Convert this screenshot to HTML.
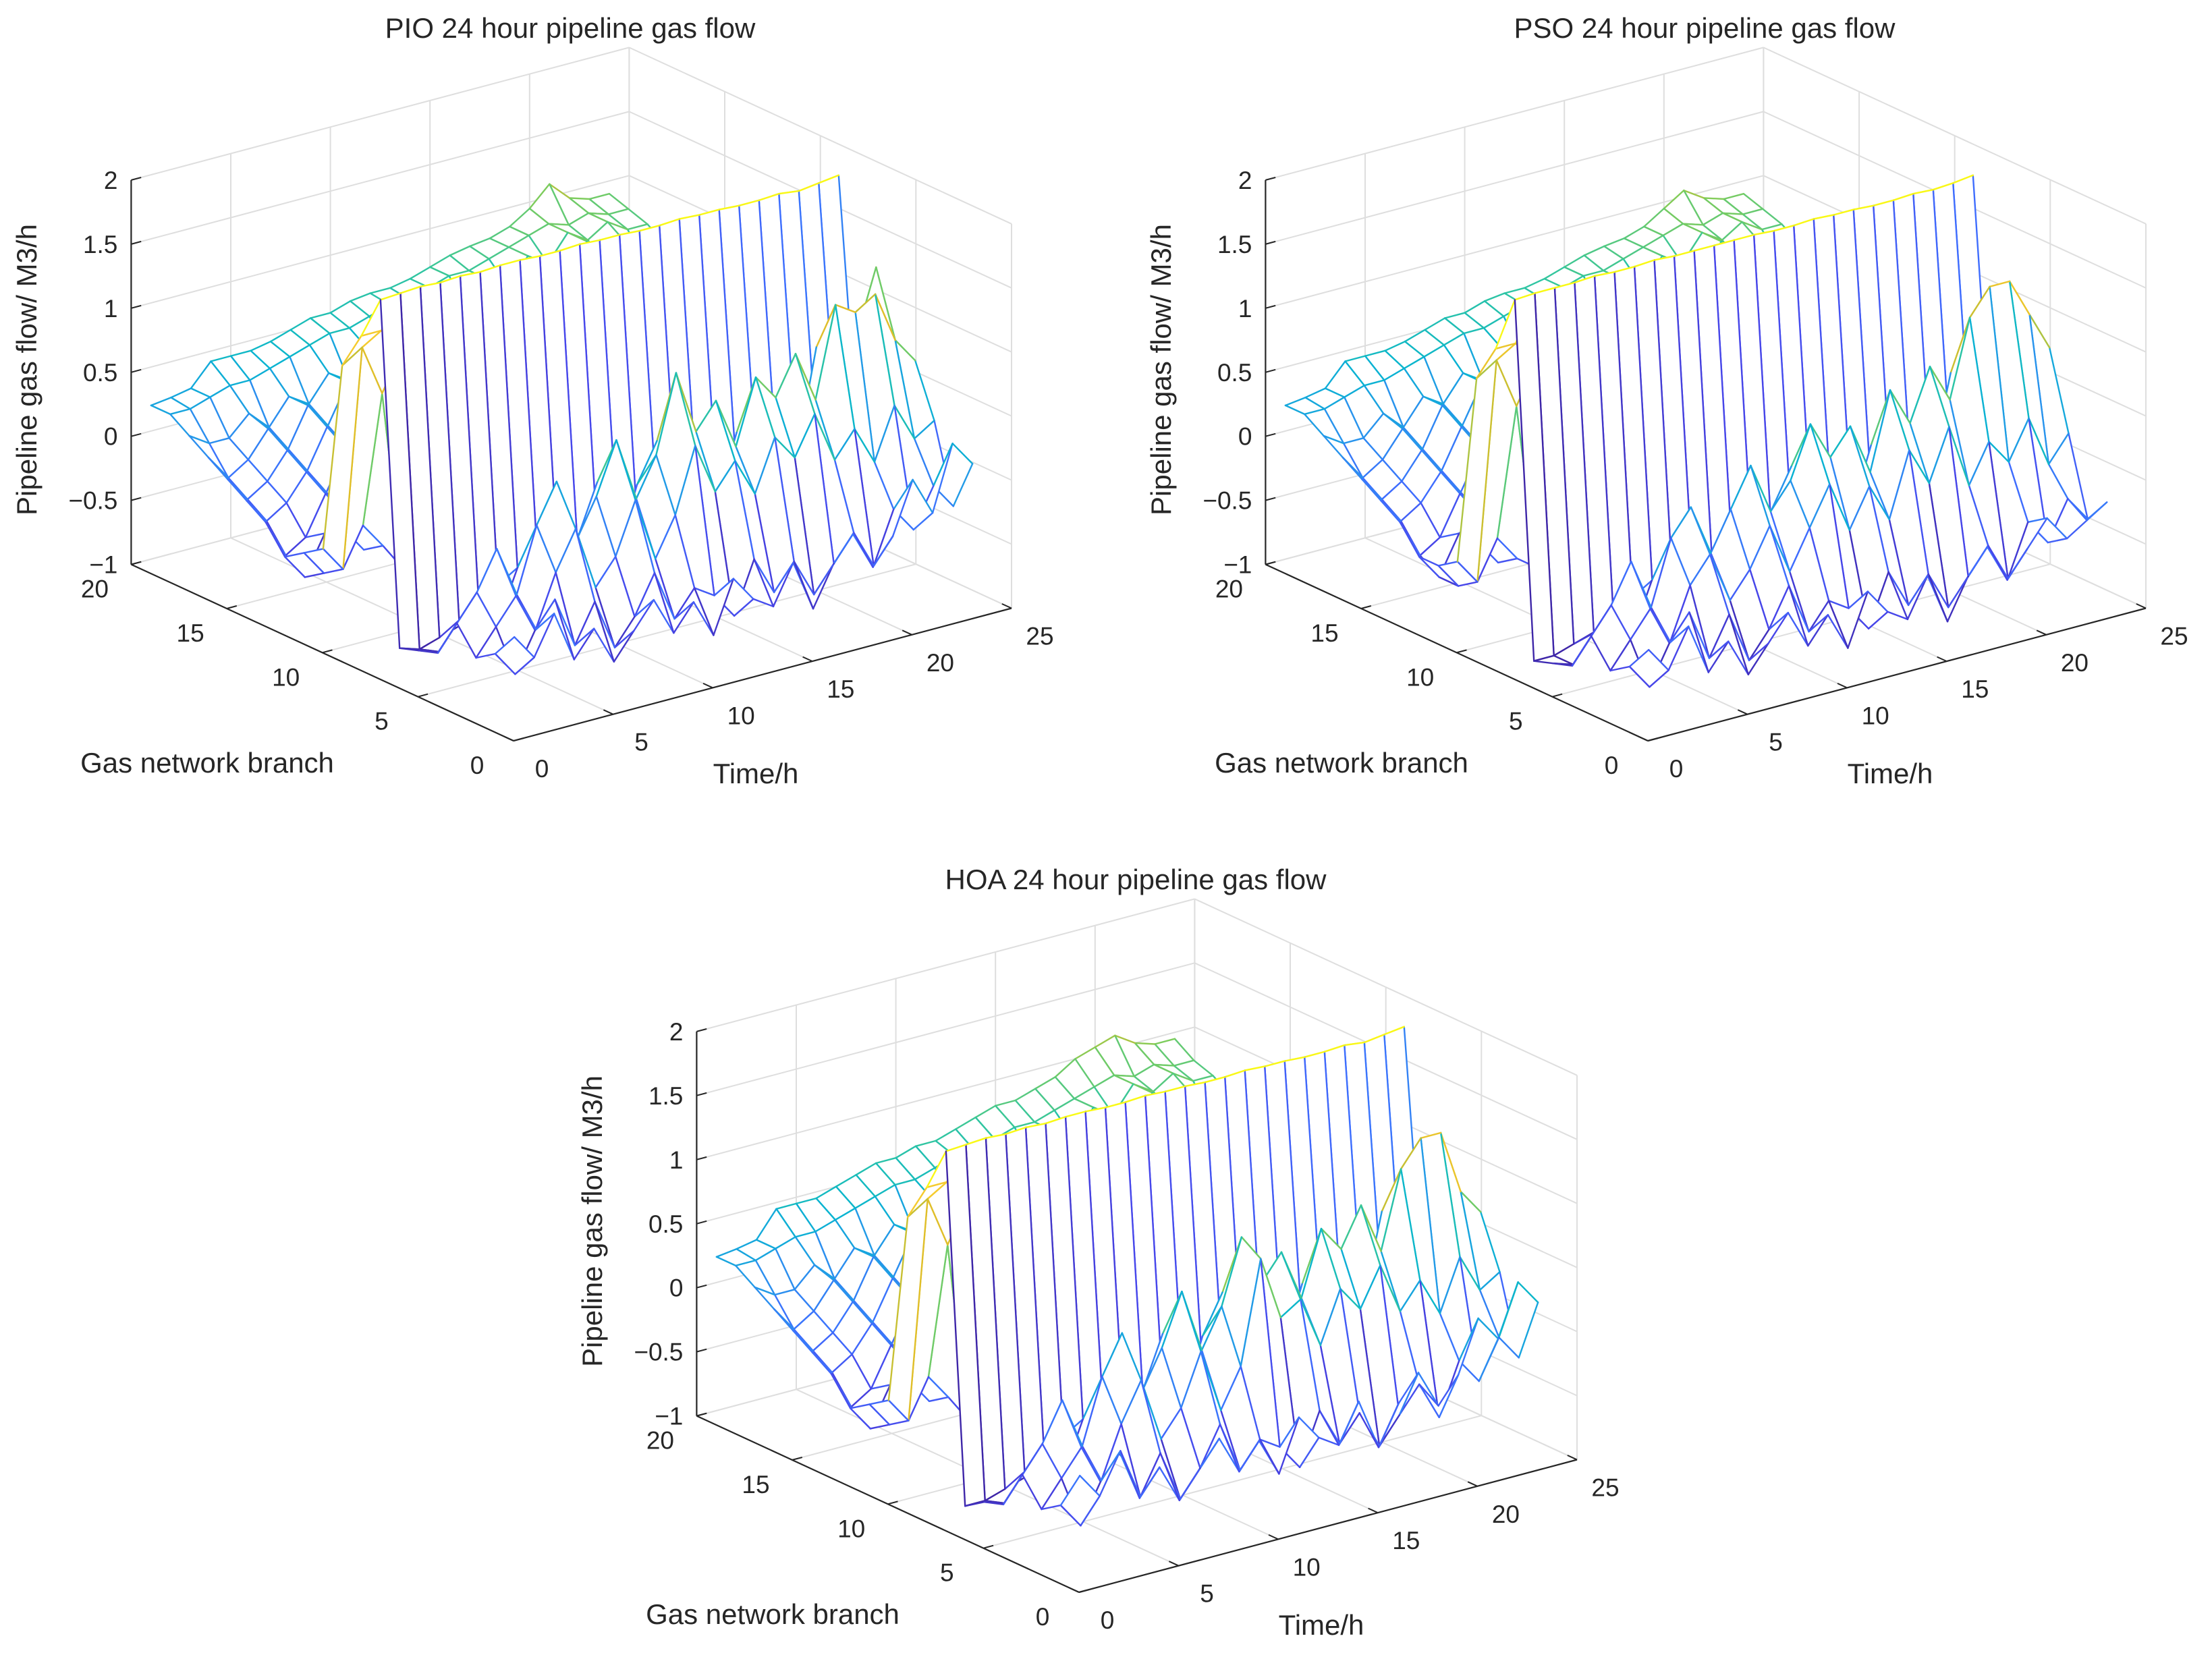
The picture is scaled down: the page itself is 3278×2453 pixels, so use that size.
<!DOCTYPE html>
<html><head><meta charset="utf-8"><style>
html,body{margin:0;padding:0;background:#fff;}
svg{display:block;font-family:"Liberation Sans",Arial,sans-serif;}
</style></head><body>
<svg id="fig" width="3278" height="2453" viewBox="0 0 3278 2453" xmlns="http://www.w3.org/2000/svg">
<rect width="3278" height="2453" fill="#fff"/>
</svg>
<script>
// ---- data: rows = gas network branch 1..20, columns = hour 1..24 ----
const hours = [1,2,3,4,5,6,7,8,9,10,11,12,13,14,15,16,17,18,19,20,21,22,23,24];
const branches = [1,2,3,4,5,6,7,8,9,10,11,12,13,14,15,16,17,18,19,20];
const zTicks = [-1,-0.5,0,0.5,1,1.5,2];
const zTickLabels = ['\u22121','\u22120.5','0','0.5','1','1.5','2'];
const branchTicks = [0,5,10,15,20];
const timeTicks = [0,5,10,15,20,25];

const flowPIO = [
[-0.3,-0.5,-0.2,-0.6,-0.4,-0.7,-0.5,-0.3,-0.6,-0.4,-0.7,-0.3,-0.5,-0.6,-0.3,-0.7,-0.4,-0.2,-0.5,-0.3,0.1,-0.2,0.3,0.1],
[-0.5,-0.7,-0.4,-0.2,-0.6,-0.3,-0.7,-0.5,-0.2,-0.6,-0.4,-0.5,-0.7,-0.3,-0.6,-0.4,-0.7,-0.5,-0.3,-0.6,-0.2,-0.4,-0.1,-0.3],
[-0.6,-0.4,-0.2,-0.5,-0.1,0.2,-0.3,-0.1,0.3,-0.2,0.1,0.6,0.2,0.4,0.1,0.5,0.3,0.6,0.2,0.4,0.1,0.5,0.2,0.3],
[-0.4,-0.2,0.1,-0.3,0.2,0.5,0.0,0.3,0.7,0.2,0.5,1.1,0.6,0.8,0.4,0.9,0.7,1.0,0.6,1.3,1.2,1.3,0.9,0.7],
[-0.7,-0.5,-0.3,-0.6,-0.2,0.1,-0.4,-0.1,0.3,-0.3,0.2,0.5,0.1,0.3,-0.1,0.4,0.2,0.5,0.1,0.9,0.8,0.9,1.4,0.6],
[-0.75,-0.8,-0.6,-0.7,-0.4,-0.6,-0.5,-0.7,-0.3,-0.6,-0.5,-0.2,-0.6,-0.4,-0.7,-0.3,-0.6,-0.5,-0.2,-0.5,-0.3,-0.4,0.2,0.0],
[-0.8,-0.85,-0.8,-0.75,-0.7,-0.7,-0.65,-0.6,-0.6,-0.55,-0.55,-0.5,-0.5,-0.45,-0.45,-0.4,-0.4,-0.35,-0.3,-0.3,-0.25,-0.2,-0.2,-0.1],
[1.85,1.86,1.87,1.86,1.87,1.86,1.87,1.87,1.86,1.86,1.87,1.86,1.86,1.85,1.85,1.86,1.85,1.85,1.84,1.84,1.85,1.83,1.85,1.87],
[1.5,1.5,1.3,0.2,-0.3,-0.4,-0.3,-0.2,-0.3,-0.1,0.0,0.1,0.0,0.2,0.1,0.3,0.2,0.4,0.3,0.5,0.4,0.6,0.5,0.4],
[1.2,1.3,0.9,-0.5,-0.6,-0.5,-0.6,-0.4,-0.5,-0.3,-0.4,-0.2,-0.3,-0.1,-0.2,0.0,-0.1,0.1,0.0,0.2,0.1,0.3,0.2,0.1],
[-0.3,-0.5,-0.2,-0.4,-0.3,-0.5,-0.2,-0.4,-0.1,-0.3,0.0,-0.2,0.1,-0.1,0.2,0.0,0.3,0.1,0.2,0.0,0.3,0.1,0.2,0.1],
[-0.4,-0.6,-0.3,-0.5,-0.2,-0.4,-0.3,-0.1,-0.3,0.0,-0.2,0.1,-0.1,0.2,0.0,0.3,0.1,0.4,0.2,0.3,0.1,0.4,0.2,0.3],
[-0.5,-0.7,-0.4,-0.3,-0.5,-0.2,-0.4,-0.1,-0.3,0.0,-0.2,0.1,0.0,0.2,0.1,0.3,0.2,0.4,0.3,0.5,0.3,0.4,0.2,0.3],
[-0.3,-0.6,-0.5,-0.2,-0.4,-0.1,-0.3,0.0,-0.2,0.1,-0.1,0.2,0.0,0.3,0.1,0.4,0.2,0.5,0.3,0.6,0.4,0.5,0.3,0.4],
[-0.2,-0.4,-0.3,-0.1,-0.3,0.0,-0.2,0.1,-0.1,0.2,0.0,0.3,0.1,0.4,0.2,0.5,0.3,0.6,0.4,0.7,0.5,0.6,0.4,0.5],
[-0.1,-0.3,-0.2,0.0,-0.2,0.1,-0.1,0.2,0.0,0.3,0.1,0.4,0.2,0.5,0.3,0.6,0.4,0.7,0.5,0.8,0.6,0.7,0.5,0.6],
[0.0,-0.2,-0.1,0.1,-0.1,0.2,0.0,0.3,0.1,0.4,0.2,0.5,0.3,0.6,0.4,0.7,0.5,0.8,0.6,0.9,0.7,0.8,0.6,0.7],
[0.1,0.0,0.0,0.15,0.0,0.2,0.1,0.3,0.2,0.4,0.3,0.5,0.4,0.6,0.5,0.7,0.6,0.8,0.7,0.9,0.8,0.9,0.8,0.8],
[0.2,0.2,0.25,0.3,0.3,0.35,0.4,0.45,0.5,0.5,0.55,0.6,0.6,0.65,0.7,0.7,0.75,0.8,0.85,0.9,0.85,0.9,0.85,0.85],
[0.2,0.22,0.25,0.42,0.42,0.42,0.45,0.5,0.55,0.55,0.6,0.62,0.62,0.65,0.7,0.75,0.78,0.8,0.85,0.95,1.1,0.95,0.9,0.9]
];

const flowPSO = [
[-0.4,-0.6,-0.3,-0.7,-0.5,-0.8,-0.6,-0.4,-0.7,-0.5,-0.8,-0.4,-0.6,-0.7,-0.4,-0.8,-0.5,-0.3,-0.6,-0.4,-0.2,-0.4,-0.3,-0.2],
[-0.6,-0.8,-0.5,-0.3,-0.7,-0.4,-0.8,-0.6,-0.3,-0.7,-0.5,-0.6,-0.8,-0.4,-0.7,-0.5,-0.8,-0.6,-0.4,-0.7,-0.3,-0.5,-0.2,-0.4],
[-0.7,-0.5,-0.3,-0.6,-0.2,0.0,-0.4,-0.2,0.1,-0.3,0.0,0.3,-0.1,0.2,-0.1,0.4,0.1,0.5,0.0,0.3,0.1,0.4,0.0,0.2],
[-0.5,-0.3,0.0,-0.4,0.1,0.3,-0.1,0.2,0.5,0.1,0.3,0.7,0.4,0.6,0.2,0.8,0.5,0.9,0.6,1.2,1.4,1.4,1.1,0.8],
[-0.8,-0.6,-0.4,-0.7,-0.3,0.0,-0.5,-0.2,0.1,-0.4,0.0,0.3,-0.1,0.2,-0.2,0.3,0.1,0.4,0.0,0.7,0.6,0.8,0.9,0.5],
[-0.85,-0.9,-0.7,-0.8,-0.5,-0.7,-0.6,-0.8,-0.4,-0.7,-0.6,-0.3,-0.7,-0.5,-0.8,-0.4,-0.7,-0.6,-0.3,-0.6,-0.4,-0.5,-0.1,-0.2],
[-0.9,-0.9,-0.85,-0.8,-0.75,-0.75,-0.7,-0.7,-0.65,-0.65,-0.6,-0.6,-0.6,-0.55,-0.55,-0.5,-0.5,-0.45,-0.45,-0.4,-0.4,-0.35,-0.3,-0.3],
[1.85,1.86,1.86,1.86,1.87,1.86,1.86,1.87,1.86,1.86,1.86,1.86,1.86,1.85,1.85,1.86,1.85,1.85,1.84,1.84,1.85,1.84,1.85,1.87],
[1.4,1.4,1.2,0.1,-0.3,-0.4,-0.3,-0.2,-0.3,-0.1,0.0,0.1,0.0,0.2,0.1,0.3,0.2,0.4,0.3,0.5,0.4,0.6,0.5,0.4],
[1.1,1.2,0.8,-0.5,-0.6,-0.5,-0.6,-0.4,-0.5,-0.3,-0.4,-0.2,-0.3,-0.1,-0.2,0.0,-0.1,0.1,0.0,0.2,0.1,0.3,0.2,0.1],
[-0.4,-0.6,-0.3,-0.5,-0.4,-0.6,-0.3,-0.5,-0.2,-0.4,-0.1,-0.3,0.0,-0.2,0.1,-0.1,0.2,0.0,0.1,-0.1,0.2,0.0,0.1,0.0],
[-0.5,-0.7,-0.4,-0.6,-0.3,-0.5,-0.4,-0.2,-0.4,-0.1,-0.3,0.0,-0.2,0.1,-0.1,0.2,0.0,0.3,0.1,0.2,0.0,0.3,0.1,0.2],
[-0.5,-0.7,-0.4,-0.3,-0.5,-0.2,-0.4,-0.1,-0.3,0.0,-0.2,0.1,0.0,0.2,0.1,0.3,0.2,0.4,0.3,0.5,0.3,0.4,0.2,0.3],
[-0.3,-0.6,-0.5,-0.2,-0.4,-0.1,-0.3,0.0,-0.2,0.1,-0.1,0.2,0.0,0.3,0.1,0.4,0.2,0.5,0.3,0.6,0.4,0.5,0.3,0.4],
[-0.2,-0.4,-0.3,-0.1,-0.3,0.0,-0.2,0.1,-0.1,0.2,0.0,0.3,0.1,0.4,0.2,0.5,0.3,0.6,0.4,0.7,0.5,0.6,0.4,0.5],
[-0.1,-0.3,-0.2,0.0,-0.2,0.1,-0.1,0.2,0.0,0.3,0.1,0.4,0.2,0.5,0.3,0.6,0.4,0.7,0.5,0.8,0.6,0.7,0.5,0.6],
[0.0,-0.2,-0.1,0.1,-0.1,0.2,0.0,0.3,0.1,0.4,0.2,0.5,0.3,0.6,0.4,0.7,0.5,0.8,0.6,0.9,0.7,0.8,0.6,0.7],
[0.1,0.0,0.0,0.15,0.0,0.2,0.1,0.3,0.2,0.4,0.3,0.5,0.4,0.6,0.5,0.7,0.6,0.8,0.7,0.9,0.8,0.9,0.8,0.8],
[0.2,0.2,0.25,0.3,0.3,0.35,0.4,0.45,0.5,0.5,0.55,0.6,0.6,0.65,0.7,0.7,0.75,0.8,0.85,0.9,0.85,0.9,0.85,0.85],
[0.2,0.22,0.25,0.42,0.42,0.42,0.45,0.5,0.55,0.55,0.6,0.62,0.62,0.65,0.7,0.75,0.78,0.8,0.85,0.95,1.05,0.95,0.9,0.9]
];

const flowHOA = [
[-0.2,-0.4,-0.1,-0.5,-0.3,-0.6,-0.4,-0.2,-0.5,-0.3,-0.6,-0.2,-0.4,-0.5,-0.2,-0.6,-0.3,-0.1,-0.4,-0.2,0.2,0.0,0.4,0.2],
[-0.5,-0.7,-0.4,-0.2,-0.6,-0.3,-0.7,-0.5,-0.2,-0.6,-0.4,-0.5,-0.7,-0.3,-0.6,-0.4,-0.7,-0.5,-0.3,-0.6,-0.2,-0.4,-0.1,-0.3],
[-0.6,-0.4,-0.2,-0.5,-0.1,0.2,-0.3,-0.1,0.3,-0.2,0.1,0.9,0.4,0.5,0.1,0.5,0.3,0.6,0.2,0.4,0.1,0.5,0.2,0.3],
[-0.4,-0.2,0.1,-0.3,0.2,0.5,0.0,0.3,0.7,0.2,0.5,1.0,0.6,0.8,0.4,0.9,0.7,1.0,0.6,1.2,1.4,1.4,0.9,0.7],
[-0.7,-0.5,-0.3,-0.6,-0.2,0.1,-0.4,-0.1,0.3,-0.3,0.2,0.5,0.1,0.3,-0.1,0.4,0.2,0.5,0.1,0.8,0.8,0.9,0.6,0.5],
[-0.75,-0.8,-0.6,-0.7,-0.4,-0.6,-0.5,-0.7,-0.3,-0.6,-0.5,-0.2,-0.6,-0.4,-0.7,-0.3,-0.6,-0.5,-0.2,-0.5,-0.3,-0.4,0.1,0.0],
[-0.85,-0.85,-0.8,-0.75,-0.7,-0.7,-0.65,-0.6,-0.6,-0.55,-0.55,-0.5,-0.5,-0.45,-0.45,-0.4,-0.4,-0.35,-0.3,-0.3,-0.25,-0.2,-0.2,-0.1],
[1.85,1.86,1.87,1.86,1.87,1.86,1.87,1.87,1.86,1.86,1.87,1.86,1.86,1.85,1.85,1.86,1.85,1.85,1.84,1.84,1.85,1.83,1.85,1.87],
[1.5,1.5,1.3,0.2,-0.3,-0.4,-0.3,-0.2,-0.3,-0.1,0.0,0.1,0.0,0.2,0.1,0.3,0.2,0.4,0.3,0.5,0.4,0.6,0.5,0.4],
[1.2,1.3,0.9,-0.5,-0.6,-0.5,-0.6,-0.4,-0.5,-0.3,-0.4,-0.2,-0.3,-0.1,-0.2,0.0,-0.1,0.1,0.0,0.2,0.1,0.3,0.2,0.1],
[-0.3,-0.5,-0.2,-0.4,-0.3,-0.5,-0.2,-0.4,-0.1,-0.3,0.0,-0.2,0.1,-0.1,0.2,0.0,0.3,0.1,0.2,0.0,0.3,0.1,0.2,0.1],
[-0.4,-0.6,-0.3,-0.5,-0.2,-0.4,-0.3,-0.1,-0.3,0.0,-0.2,0.1,-0.1,0.2,0.0,0.3,0.1,0.4,0.2,0.3,0.1,0.4,0.2,0.3],
[-0.5,-0.7,-0.4,-0.3,-0.5,-0.2,-0.4,-0.1,-0.3,0.0,-0.2,0.1,0.0,0.2,0.1,0.3,0.2,0.4,0.3,0.5,0.3,0.4,0.2,0.3],
[-0.3,-0.6,-0.5,-0.2,-0.4,-0.1,-0.3,0.0,-0.2,0.1,-0.1,0.2,0.0,0.3,0.1,0.4,0.2,0.5,0.3,0.6,0.4,0.5,0.3,0.4],
[-0.2,-0.4,-0.3,-0.1,-0.3,0.0,-0.2,0.1,-0.1,0.2,0.0,0.3,0.1,0.4,0.2,0.5,0.3,0.6,0.4,0.7,0.5,0.6,0.4,0.5],
[-0.1,-0.3,-0.2,0.0,-0.2,0.1,-0.1,0.2,0.0,0.3,0.1,0.4,0.2,0.5,0.3,0.6,0.4,0.7,0.5,0.8,0.6,0.7,0.5,0.6],
[0.0,-0.2,-0.1,0.1,-0.1,0.2,0.0,0.3,0.1,0.4,0.2,0.5,0.3,0.6,0.4,0.7,0.5,0.8,0.6,0.9,0.7,0.8,0.6,0.7],
[0.1,0.0,0.0,0.15,0.0,0.2,0.1,0.3,0.2,0.4,0.3,0.5,0.4,0.6,0.5,0.7,0.6,0.8,0.7,0.9,0.8,0.9,0.8,0.8],
[0.2,0.2,0.25,0.3,0.3,0.35,0.4,0.45,0.5,0.5,0.55,0.6,0.6,0.65,0.7,0.7,0.75,0.8,0.85,0.9,0.85,0.9,0.85,0.85],
[0.2,0.22,0.25,0.45,0.45,0.45,0.5,0.55,0.6,0.6,0.65,0.65,0.7,0.75,0.8,0.8,0.85,0.9,1.0,1.05,1.1,1.0,0.95,0.95]
];

const NS = 'http://www.w3.org/2000/svg';
const svg = document.getElementById('fig');
const PARULA = [[0.2422,0.1504,0.6603],[0.2803,0.2782,0.9221],[0.2440,0.4358,0.9988],[0.1540,0.5902,0.9218],[0.0297,0.7082,0.8163],[0.1938,0.7758,0.6251],[0.5044,0.7993,0.3480],[0.8634,0.7406,0.1596],[0.9892,0.8136,0.1885],[0.9769,0.9839,0.0805]];
function parula(f){
  f=Math.max(0,Math.min(1,f))*(PARULA.length-1);
  const i=Math.min(PARULA.length-2,Math.floor(f)), u=f-i;
  const c=PARULA[i].map((v,k)=>Math.round(255*(v+(PARULA[i+1][k]-v)*u)));
  return 'rgb('+c.join(',')+')';
}
function mk(tag,attrs,parent){const e=document.createElementNS(NS,tag);for(const k in attrs)e.setAttribute(k,attrs[k]);parent.appendChild(e);return e;}

function drawChart(ox,oy,Z,title,key){
  const g=mk('g',{},svg);
  
  
  const P=(t,b,z)=>[ox+29.52*t-28.33*b, oy-7.86*t-13.07*b-189.9*(z+1)];
  const line=(a,c,stroke,w,parent)=>mk('line',{x1:a[0].toFixed(1),y1:a[1].toFixed(1),x2:c[0].toFixed(1),y2:c[1].toFixed(1),stroke:stroke,'stroke-width':w},parent);
  const grid=mk('g',{},g);
  
  
  const gc='#dedede';
  timeTicks.forEach(t=>{ line(P(t,0,-1),P(t,20,-1),gc,2,grid); line(P(t,20,-1),P(t,20,2),gc,2,grid); });
  branchTicks.forEach(b=>{ line(P(0,b,-1),P(25,b,-1),gc,2,grid); line(P(25,b,-1),P(25,b,2),gc,2,grid); });
  zTicks.forEach(z=>{ line(P(0,20,z),P(25,20,z),gc,2,grid); line(P(25,20,z),P(25,0,z),gc,2,grid); });
  let mn=Infinity,mx=-Infinity; Z.forEach(r=>r.forEach(v=>{mn=Math.min(mn,v);mx=Math.max(mx,v);}));
  const col=v=>parula((v-mn)/(mx-mn));
  const quads=[];
  for(let i=0;i<branches.length-1;i++)for(let j=0;j<hours.length-1;j++){
    quads.push({i,j,d:0.61*(hours[j]+0.5)/25+0.79*(branches[i]+0.5)/20});
  }
  quads.sort((a,b)=>b.d-a.d);
  const mesh=mk('g',{'stroke-linecap':'round'},g);
  
  
  quads.forEach(q=>{
    const {i,j}=q;
    const v=[[i,j],[i,j+1],[i+1,j+1],[i+1,j]];
    const pts=v.map(([a,b])=>P(hours[b],branches[a],Z[a][b]));
    const qg=mk('g',{},mesh);
    
    
    mk('polygon',{points:pts.map(p=>p[0].toFixed(1)+','+p[1].toFixed(1)).join(' '),fill:'#fff',stroke:'none'},qg);
    for(let k=0;k<4;k++){
      const a=v[k],c=v[(k+1)%4];
      // flat edge colouring: use the vertex with the lower indices
      const lo=(a[0]+a[1]<=c[0]+c[1])?a:c;
      line(pts[k],pts[(k+1)%4],col(Z[lo[0]][lo[1]]),2.4,qg);
    }
  });
  const ax=mk('g',{},g);
  
  
  line(P(0,20,-1),P(0,20,2),'#262626',2.2,ax);
  line(P(0,0,-1),P(0,20,-1),'#262626',2.2,ax);
  line(P(0,0,-1),P(25,0,-1),'#262626',2.2,ax);
  const txt=(x,y,s,size,anchor,name,extra)=>{const e=mk('text',Object.assign({x:x.toFixed(1),y:y.toFixed(1),'font-size':size,'text-anchor':anchor,fill:'#262626'},extra||{}),g);e.textContent=s;
    
    
    return e;};
  zTicks.forEach((z,k)=>{const p=P(0,20,z);line(p,P(0.5,20,z),'#262626',2,ax);txt(p[0]-20,p[1]+13,zTickLabels[k],37,'end','z-tick-label');});
  branchTicks.forEach(b=>{const p=P(0,b,-1);line(p,P(0.5,b,-1),'#262626',2,ax);txt(p[0]-54,p[1]+49,String(b),37,'middle','branch-tick-label');});
  timeTicks.forEach(t=>{const p=P(t,0,-1);line(p,P(t,0.5,-1),'#262626',2,ax);txt(p[0]+42,p[1]+54,String(t),37,'middle','time-tick-label');});
  txt(ox-454,oy+47,'Gas network branch',42,'middle','branch-axis-title');
  txt(ox+359,oy+63,'Time/h',42,'middle','time-axis-title');
  txt(0,0,'Pipeline gas flow/ M3/h',42,'middle','z-axis-title',{transform:'translate('+(ox-707)+','+(oy-550)+') rotate(-90)'});
  txt(ox+84,oy-1042,title,42,'middle','chart-title');
}
drawChart(761,1098,flowPIO,'PIO 24 hour pipeline gas flow','pio');
drawChart(761+1681,1098,flowPSO,'PSO 24 hour pipeline gas flow','pso');
drawChart(761+838,1098+1262,flowHOA,'HOA 24 hour pipeline gas flow','hoa');
</script>
</body></html>
